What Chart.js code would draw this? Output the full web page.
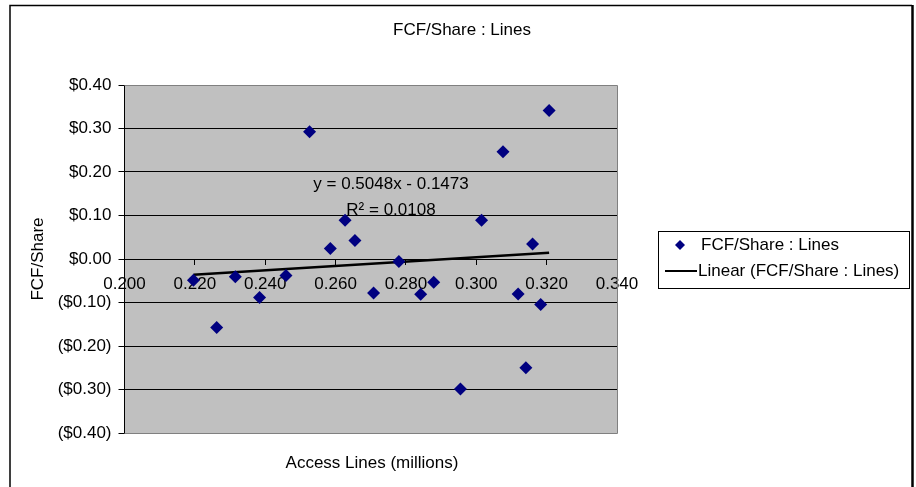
<!DOCTYPE html>
<html>
<head>
<meta charset="utf-8">
<title>FCF/Share : Lines</title>
<script src="https://cdn.jsdelivr.net/npm/chart.js@4.4.1/dist/chart.umd.min.js"></script>
<style>
  html, body { margin: 0; padding: 0; background: #fff; }
  #wrap { position: relative; width: 916px; height: 487px; }
</style>
</head>
<body>
<div id="wrap"><canvas id="fcfChart" width="916" height="487"></canvas></div>
<script>
// Access lines (millions) vs FCF per share
const accessLines = [0.2196, 0.2262, 0.2315, 0.2384, 0.2459, 0.2526, 0.2585, 0.2627, 0.2655, 0.2708, 0.2780,
                     0.2842, 0.2879, 0.2955, 0.3015, 0.3076, 0.3119, 0.3141, 0.3160, 0.3183, 0.3207];
const fcfShare = [-0.0486, -0.1576, -0.0410, -0.0885, -0.0378, 0.2924, 0.0244, 0.0889, 0.0428, -0.0779, -0.0055,
                  -0.0809, -0.0532, -0.2990, 0.0889, 0.2463, -0.0802, -0.2498, 0.0343, -0.1046, 0.3415];

// Linear trendline ends (y = 0.5048x - 0.1473)
const trendX = [0.2196, 0.3207];
const trendY = [-0.0364, 0.0146];
const trendLabel = 'y = 0.5048x - 0.1473';
const r2Label = 'R² = 0.0108';

const seriesName = 'FCF/Share : Lines';
const trendName = 'Linear (FCF/Share : Lines)';
const chartTitle = 'FCF/Share : Lines';
const xTitle = 'Access Lines (millions)';
const yTitle = 'FCF/Share';

const FONT = '"Liberation Sans", Arial, sans-serif';
const FONT_SIZE = 17;
const NAVY = '#000080';

// Backdrop, plot border, titles, equation and boxed legend
const chartDecor = {
    id: 'chartDecor',
    beforeDraw(chart) {
        const { ctx, chartArea: a } = chart;
        ctx.save();
        ctx.fillStyle = '#ffffff';
        ctx.fillRect(0, 0, chart.width, chart.height);
        ctx.fillStyle = '#c0c0c0';
        ctx.fillRect(a.left, a.top, a.right - a.left, a.bottom - a.top);
        ctx.restore();
    },
    beforeDatasetsDraw(chart) {
        const { ctx, chartArea: a } = chart;
        ctx.save();
        ctx.strokeStyle = '#808080';
        ctx.lineWidth = 1;
        ctx.beginPath();
        ctx.moveTo(a.left, Math.round(a.top) + 0.5);
        ctx.lineTo(Math.round(a.right) + 0.5, Math.round(a.top) + 0.5);
        ctx.lineTo(Math.round(a.right) + 0.5, Math.round(a.bottom) + 0.5);
        ctx.lineTo(a.left, Math.round(a.bottom) + 0.5);
        ctx.stroke();
        ctx.restore();
    },
    afterDraw(chart) {
        const { ctx } = chart;
        ctx.save();

        // chart area frame
        ctx.strokeStyle = '#000';
        ctx.lineWidth = 1.5;
        ctx.beginPath();
        ctx.moveTo(10, 490);
        ctx.lineTo(10, 5.5);
        ctx.lineTo(912, 5.5);
        ctx.stroke();
        ctx.lineWidth = 2.5;
        ctx.beginPath();
        ctx.moveTo(912.5, 5);
        ctx.lineTo(912.5, 490);
        ctx.stroke();

        ctx.fillStyle = '#000';
        ctx.font = FONT_SIZE + 'px ' + FONT;
        ctx.textAlign = 'center';
        ctx.textBaseline = 'middle';
        ctx.fillText(chartTitle, 462, 30);
        ctx.fillText(xTitle, 372, 463);
        ctx.fillText(trendLabel, 391, 184);
        ctx.fillText(r2Label, 391, 210);

        // legend
        const lx = 658.5, ly = 231.5, lw = 251, lh = 57;
        ctx.fillStyle = '#fff';
        ctx.fillRect(lx, ly, lw, lh);
        ctx.strokeStyle = '#000';
        ctx.lineWidth = 1;
        ctx.strokeRect(lx, ly, lw, lh);

        const ds = chart.data.datasets;
        ctx.fillStyle = ds[0].backgroundColor;
        ctx.beginPath();
        ctx.moveTo(680, 240);
        ctx.lineTo(685, 245);
        ctx.lineTo(680, 250);
        ctx.lineTo(675, 245);
        ctx.closePath();
        ctx.fill();

        ctx.strokeStyle = ds[1].borderColor;
        ctx.lineWidth = 2;
        ctx.beginPath();
        ctx.moveTo(665, 271);
        ctx.lineTo(697, 271);
        ctx.stroke();

        ctx.fillStyle = '#000';
        ctx.textAlign = 'left';
        ctx.fillText(ds[0].label, 701, 245);
        ctx.fillText(ds[1].label, 698, 271);
        ctx.restore();
    }
};

function dollarTick(v) {
    const s = '$' + Math.abs(v).toFixed(2);
    return v < -1e-9 ? '(' + s + ')' : s;
}

document.addEventListener('DOMContentLoaded', function() {
    const ctx = document.getElementById('fcfChart');

    const points = accessLines.map((x, i) => ({ x: x, y: fcfShare[i] }));
    const trend = trendX.map((x, i) => ({ x: x, y: trendY[i] }));

    new Chart(ctx, {
        type: 'scatter',
        data: {
            datasets: [{
                label: seriesName,
                data: points,
                pointStyle: 'rectRot',
                pointRadius: 6.5,
                pointHoverRadius: 6.5,
                backgroundColor: NAVY,
                borderColor: NAVY,
                borderWidth: 0
            }, {
                type: 'line',
                label: trendName,
                data: trend,
                borderColor: '#000',
                borderWidth: 2.5,
                pointRadius: 0,
                fill: false
            }]
        },
        options: {
            responsive: false,
            devicePixelRatio: 1,
            animation: false,
            layout: {
                padding: { left: 10, top: 85, right: 299, bottom: 54 }
            },
            plugins: {
                legend: { display: false },
                title: { display: false },
                tooltip: { enabled: false }
            },
            scales: {
                x: {
                    type: 'linear',
                    position: { y: 0 },
                    min: 0.2,
                    max: 0.34,
                    border: { display: true, color: '#000', width: 1 },
                    grid: {
                        drawOnChartArea: false,
                        drawTicks: true,
                        tickLength: 5,
                        tickColor: '#000'
                    },
                    ticks: {
                        stepSize: 0.02,
                        color: '#000',
                        padding: 10,
                        maxRotation: 0,
                        font: { family: FONT, size: FONT_SIZE },
                        callback: v => v.toFixed(3)
                    }
                },
                y: {
                    type: 'linear',
                    min: -0.4,
                    max: 0.4,
                    afterFit: scale => { scale.width = 114.5; },
                    border: { display: true, color: '#000', width: 1 },
                    grid: {
                        color: c => (c.tick && Math.abs(Math.abs(c.tick.value) - 0.4) < 1e-9 ? '#808080' : '#000'),
                        tickColor: '#000',
                        tickLength: 6
                    },
                    ticks: {
                        stepSize: 0.1,
                        color: '#000',
                        padding: 7,
                        font: { family: FONT, size: FONT_SIZE },
                        callback: dollarTick
                    },
                    title: {
                        display: true,
                        text: yTitle,
                        color: '#000',
                        font: { family: FONT, size: FONT_SIZE },
                        padding: { top: 18, bottom: 0 }
                    }
                }
            }
        },
        plugins: [chartDecor]
    });
});
</script>
</body>
</html>
